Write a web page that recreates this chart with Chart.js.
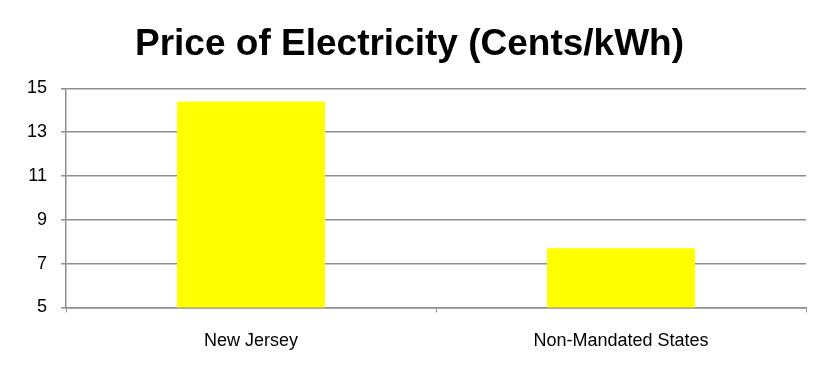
<!DOCTYPE html>
<html>
<head>
<meta charset="utf-8">
<script src="https://cdn.jsdelivr.net/npm/chart.js@4"></script>
<style>
  html, body { margin: 0; padding: 0; background: #fff; }
  #wrap { width: 830px; height: 374px; position: relative; }
</style>
</head>
<body>
<div id="wrap"><canvas id="chart"></canvas></div>
<script>
// data
const categories = ["New Jersey", "Non-Mandated States"];
const prices = [14.4, 7.7];
const yMin = 5, yMax = 15, yStep = 2;

const gridGray = "#8e8e8e";
const font = "'Liberation Sans', Arial, Helvetica, sans-serif";

new Chart(document.getElementById("chart"), {
  type: "bar",
  data: {
    labels: categories,
    datasets: [{
      label: "Price of Electricity",
      data: prices,
      backgroundColor: "#ffff00",
      borderWidth: 0,
      barPercentage: 0.4,
      categoryPercentage: 1.0,
    }],
  },
  options: {
    responsive: true,
    maintainAspectRatio: false,
    animation: false,
    layout: { padding: { left: 13, right: 24, top: 23, bottom: 4 } },
    plugins: {
      legend: { display: false },
      tooltip: { enabled: false },
      title: {
        display: true,
        text: "Price of Electricity (Cents/kWh)",
        color: "#000",
        font: { family: font, size: 37, weight: "bold" },
        padding: { top: 0, bottom: 21 },
      },
    },
    scales: {
      x: {
        grid: { display: true, drawOnChartArea: false, color: gridGray, tickLength: 5, offset: true },
        border: { color: gridGray, width: 1.5 },
        ticks: { color: "#000", font: { family: font, size: 18 }, padding: 18 },
      },
      y: {
        min: yMin,
        max: yMax,
        grid: { color: gridGray, lineWidth: 1.5, tickLength: 5 },
        border: { color: gridGray, width: 1.5 },
        ticks: { stepSize: yStep, color: "#000", font: { family: font, size: 18 }, padding: 14 },
      },
    },
  },
});
</script>
</body>
</html>
